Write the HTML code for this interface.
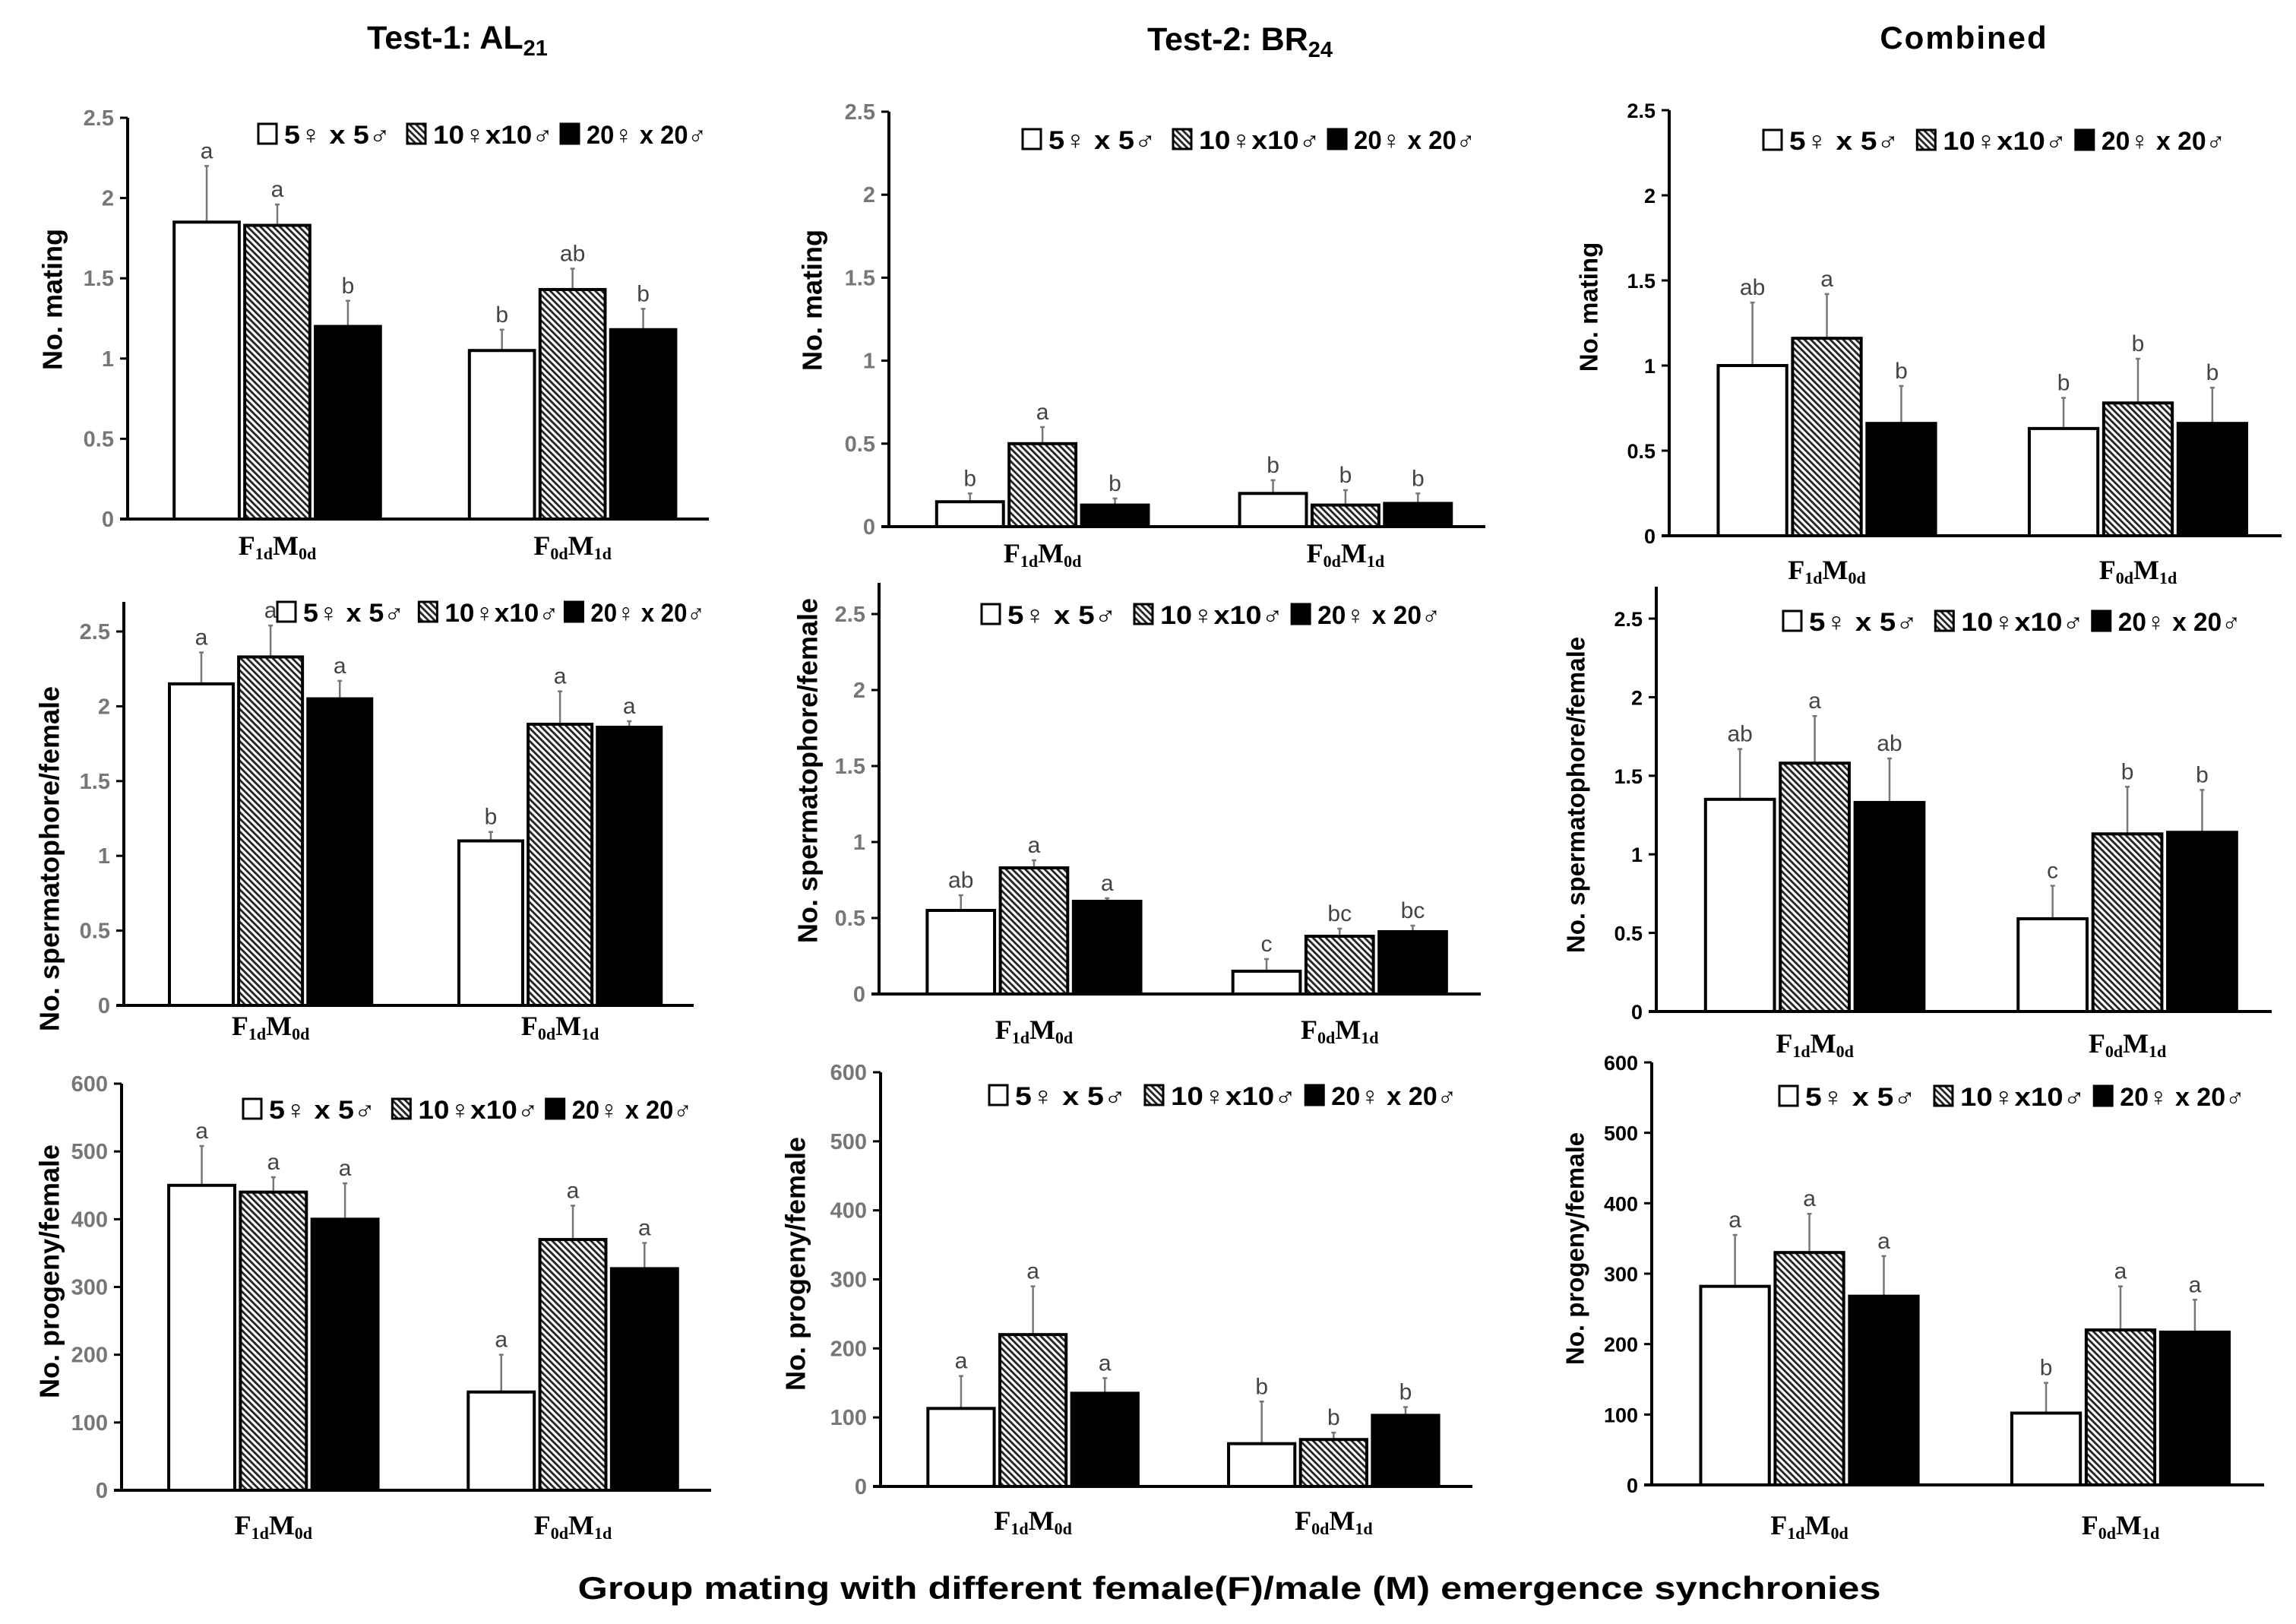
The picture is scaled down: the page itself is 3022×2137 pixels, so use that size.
<!DOCTYPE html>
<html><head><meta charset="utf-8">
<style>
html,body{margin:0;padding:0;background:#fff;}
svg{display:block;}
text{font-family:"Liberation Sans",Arial,sans-serif;}
</style></head>
<body>
<svg id="fig" width="3022" height="2137" viewBox="0 0 3022 2137" xmlns="http://www.w3.org/2000/svg">
<defs>
<pattern id="hatch" patternUnits="userSpaceOnUse" width="6" height="6" patternTransform="rotate(-45)">
<rect width="6" height="6" fill="#fff"/>
<rect x="0" y="0" width="2.8" height="6" fill="#222"/>
</pattern>
</defs>
<text x="602" y="64" text-anchor="middle" font-size="43" font-weight="bold">Test-1: AL<tspan font-size="29" dy="9">21</tspan></text>
<text x="1632" y="66" text-anchor="middle" font-size="43" font-weight="bold">Test-2: BR<tspan font-size="29" dy="9">24</tspan></text>
<text x="2585" y="64" text-anchor="middle" font-size="42" font-weight="bold" letter-spacing="2">Combined</text>
<text x="1618" y="2104" text-anchor="middle" font-size="42" font-weight="bold" textLength="1715" lengthAdjust="spacingAndGlyphs">Group mating with different female(F)/male (M) emergence synchronies</text>
<g id="panels"></g>
</svg>
<script>
// ---- data ----
const categories = ["F1dM0d", "F0dM1d"];
const seriesNames = ["5♀ x 5♂", "10♀x10♂", "20♀ x 20♂"];
const ticksMating = [0, 0.5, 1, 1.5, 2, 2.5];
const ticksProgeny = [0, 100, 200, 300, 400, 500, 600];

const t1MatingMeans = [[1.85, 1.83, 1.20], [1.05, 1.43, 1.18]];
const t1MatingErr = [[2.20, 1.96, 1.36], [1.18, 1.56, 1.31]];
const t1MatingLetters = [["a", "a", "b"], ["b", "ab", "b"]];

const t2MatingMeans = [[0.15, 0.50, 0.13], [0.20, 0.13, 0.14]];
const t2MatingErr = [[0.20, 0.60, 0.17], [0.28, 0.22, 0.20]];
const t2MatingLetters = [["b", "a", "b"], ["b", "b", "b"]];

const cbMatingMeans = [[1.00, 1.16, 0.66], [0.63, 0.78, 0.66]];
const cbMatingErr = [[1.37, 1.42, 0.88], [0.81, 1.04, 0.87]];
const cbMatingLetters = [["ab", "a", "b"], ["b", "b", "b"]];

const t1SpermMeans = [[2.15, 2.33, 2.05], [1.10, 1.88, 1.86]];
const t1SpermErr = [[2.36, 2.54, 2.17], [1.16, 2.10, 1.90]];
const t1SpermLetters = [["a", "a", "a"], ["b", "a", "a"]];

const t2SpermMeans = [[0.55, 0.83, 0.61], [0.15, 0.38, 0.41]];
const t2SpermErr = [[0.65, 0.88, 0.63], [0.23, 0.43, 0.45]];
const t2SpermLetters = [["ab", "a", "a"], ["c", "bc", "bc"]];

const cbSpermMeans = [[1.35, 1.58, 1.33], [0.59, 1.13, 1.14]];
const cbSpermErr = [[1.67, 1.88, 1.61], [0.80, 1.43, 1.41]];
const cbSpermLetters = [["ab", "a", "ab"], ["c", "b", "b"]];

const t1ProgMeans = [[450, 440, 400], [145, 370, 327]];
const t1ProgErr = [[508, 462, 453], [200, 420, 365]];
const t1ProgLetters = [["a", "a", "a"], ["a", "a", "a"]];

const t2ProgMeans = [[113, 220, 135], [62, 68, 103]];
const t2ProgErr = [[160, 290, 157], [123, 78, 115]];
const t2ProgLetters = [["a", "a", "a"], ["b", "b", "b"]];

const cbProgMeans = [[282, 330, 268], [102, 220, 217]];
const cbProgErr = [[355, 385, 325], [145, 282, 263]];
const cbProgLetters = [["a", "a", "a"], ["b", "a", "a"]];

// ---- layout ----
const NS = "http://www.w3.org/2000/svg";
const root = document.getElementById("panels");
function mk(tag, attrs, parent) {
  const e = document.createElementNS(NS, tag);
  for (const k in attrs) e.setAttribute(k, attrs[k]);
  (parent || root).appendChild(e);
  return e;
}

const panels = [
  {id:"t1-mating", ax:168, right:933, y0:683, yTop:155, axTop:155, ticks:ticksMating, means:t1MatingMeans, err:t1MatingErr, letters:t1MatingLetters, title:"No. mating", tx:72, ty:394, legX:340, legY:176, legSpan:590, catY:730, comb:false},
  {id:"t2-mating", ax:1170, right:1955, y0:693, yTop:147, axTop:147, ticks:ticksMating, means:t2MatingMeans, err:t2MatingErr, letters:t2MatingLetters, title:"No. mating", tx:1072, ty:395, legX:1346, legY:183, legSpan:596, catY:740, comb:false},
  {id:"cb-mating", ax:2197, right:3003, y0:705, yTop:145, axTop:145, ticks:ticksMating, means:cbMatingMeans, err:cbMatingErr, letters:cbMatingLetters, title:"No. mating", tx:2094, ty:404, legX:2321, legY:184, legSpan:609, catY:762, comb:true},
  {id:"t1-sperm", ax:163, right:913, y0:1323, yTop:831, axTop:792, ticks:ticksMating, means:t1SpermMeans, err:t1SpermErr, letters:t1SpermLetters, title:"No. spermatophore/female", tx:68, ty:1130, legX:365, legY:805, legSpan:561, catY:1362, comb:false},
  {id:"t2-sperm", ax:1157, right:1949, y0:1308, yTop:808, axTop:767, ticks:ticksMating, means:t2SpermMeans, err:t2SpermErr, letters:t2SpermLetters, title:"No. spermatophore/female", tx:1066, ty:1014, legX:1292, legY:808, legSpan:605, catY:1367, comb:false},
  {id:"cb-sperm", ax:2180, right:2990, y0:1331, yTop:814, axTop:772, ticks:ticksMating, means:cbSpermMeans, err:cbSpermErr, letters:cbSpermLetters, title:"No. spermatophore/female", tx:2077, ty:1046, legX:2347, legY:817, legSpan:603, catY:1385, comb:true},
  {id:"t1-progeny", ax:160, right:936, y0:1961, yTop:1426, axTop:1426, ticks:ticksProgeny, means:t1ProgMeans, err:t1ProgErr, letters:t1ProgLetters, title:"No. progeny/female", tx:68, ty:1673, legX:320, legY:1459, legSpan:591, catY:2019, comb:false},
  {id:"t2-progeny", ax:1159, right:1938, y0:1956, yTop:1411, axTop:1411, ticks:ticksProgeny, means:t2ProgMeans, err:t2ProgErr, letters:t2ProgLetters, title:"No. progeny/female", tx:1050, ty:1663, legX:1302, legY:1441, legSpan:617, catY:2013, comb:false},
  {id:"cb-progeny", ax:2174, right:2980, y0:1954, yTop:1398, axTop:1398, ticks:ticksProgeny, means:cbProgMeans, err:cbProgErr, letters:cbProgLetters, title:"No. progeny/female", tx:2076, ty:1643, legX:2342, legY:1442, legSpan:614, catY:2019, comb:true}
];

const fills = ["#fff", "url(#hatch)", "#000"];
const catSubs = [["F","1d","M","0d"],["F","0d","M","1d"]];

panels.forEach(p => {
  const g = mk("g", {});
  
  
  const tmax = p.ticks[p.ticks.length - 1];
  const yS = v => p.y0 - v / tmax * (p.y0 - p.yTop);
  const W = p.right - p.ax;
  const bw = 0.112 * W, pitch = 0.1215 * W;
  const gStart = [p.ax + 0.08 * W, p.ax + 0.588 * W];

  const yl = mk("line", {x1:p.ax, x2:p.ax, y1:p.axTop, y2:p.y0, stroke:"#000", "stroke-width":4}, g);
  
  
  p.ticks.forEach(t => {
    const yy = yS(t);
    const tk = mk("line", {x1:p.ax - 10, x2:p.ax, y1:yy, y2:yy, stroke:"#000", "stroke-width":3}, g);
    
    
    const tl = mk("text", {x:p.ax - 18, y:yy + 10, "text-anchor":"end", "font-size": p.comb ? 27 : 29, "font-weight":"bold", fill: p.comb ? "#000" : "#777"}, g);
    
    
    tl.textContent = String(t);
  });
  const xl = mk("line", {x1:p.ax - 10, x2:p.right, y1:p.y0, y2:p.y0, stroke:"#000", "stroke-width":4}, g);
  
  

  const yt = mk("text", {x:p.tx, y:p.ty, "text-anchor":"middle", "font-size": p.comb ? 33 : 36, "font-weight":"bold", transform:`rotate(-90 ${p.tx} ${p.ty})`, "dominant-baseline":"middle"}, g);
  
  
  yt.textContent = p.title;

  categories.forEach((c, ci) => {
    seriesNames.forEach((s, si) => {
      const x = gStart[ci] + si * pitch;
      const v = p.means[ci][si];
      const top = yS(v);
      const ey = yS(p.err[ci][si]);
      const cx = x + bw / 2;
      const el = mk("line", {x1:cx, x2:cx, y1:ey, y2:top, stroke:"#777", "stroke-width":2.5}, g);
      
      
      const cap = mk("line", {x1:cx - 3, x2:cx + 3, y1:ey, y2:ey, stroke:"#777", "stroke-width":2.5}, g);
      
      
      const r = mk("rect", {x:x, y:top, width:bw, height:p.y0 - top, fill:fills[si], stroke:"#000", "stroke-width":4}, g);
      
      
      const lt = mk("text", {x:cx, y:ey - 10, "text-anchor":"middle", "font-size":30, fill:"#444"}, g);
      
      
      lt.textContent = p.letters[ci][si];
    });
    const gc = gStart[ci] + (3 * bw + 2 * (pitch - bw)) / 2;
    const cs = catSubs[ci];
    const ct = mk("text", {x:gc, y:p.catY, "text-anchor":"middle", "font-size":36, "font-weight":"bold", style:'font-family:"Liberation Serif",serif'}, g);
    
    
    ct.innerHTML = `${cs[0]}<tspan font-size="22" dy="6">${cs[1]}</tspan><tspan dy="-6">${cs[2]}</tspan><tspan font-size="22" dy="6">${cs[3]}</tspan>`;
  });

  const k = p.legSpan / 590;
  const offs = [0, 196, 398];
  seriesNames.forEach((s, si) => {
    const lx = p.legX + offs[si] * k;
    const b = mk("rect", {x:lx, y:p.legY - 13, width:24, height:26, fill:fills[si], stroke:"#000", "stroke-width":3}, g);
    
    
    const t = mk("text", {x:lx + 34, y:p.legY + 13, "font-size":34, "font-weight":"bold", textLength: (si === 0 ? 140 : 158) * k, lengthAdjust:"spacingAndGlyphs"}, g);
    
    
    t.textContent = s;
  });
});
</script>
</body></html>
